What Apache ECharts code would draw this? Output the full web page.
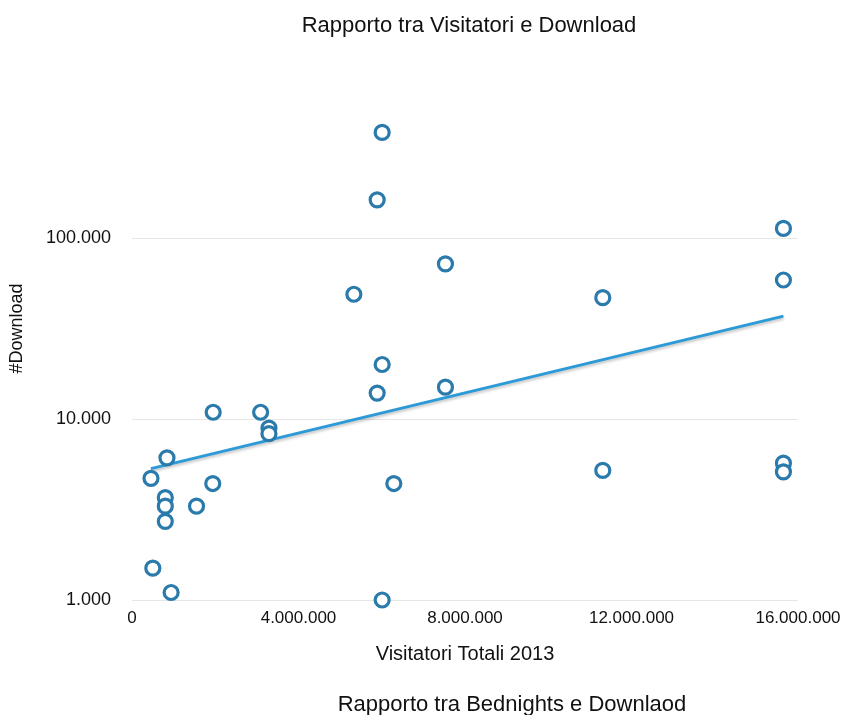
<!DOCTYPE html>
<html>
<head>
<meta charset="utf-8">
<script src="https://cdn.jsdelivr.net/npm/echarts@6/dist/echarts.min.js"></script>
<style>
  html, body { margin: 0; padding: 0; background: #ffffff; }
  #chart { width: 846px; height: 715px; }
</style>
</head>
<body>
<div id="chart"></div>
<script>
// Visitatori totali 2013 per destinazione
const visitors = [
  6010000, 5890000, 7530000, 5330000, 6010000, 5890000, 7530000,
  1950000, 3090000, 3290000, 3290000, 840000, 456000, 1940000,
  800000, 800000, 1550000, 800000, 500000, 940000,
  6290000, 6010000,
  15650000, 15650000, 11310000, 11310000, 15650000, 15650000
];
// Download corrispondenti
const downloads = [
  383000, 162500, 71900, 48900, 20000, 13900, 15000,
  10900, 10900, 8900, 8300, 6100, 4700, 4400,
  3680, 3300, 3300, 2720, 1500, 1100,
  4400, 1000,
  113000, 58600, 46800, 5200, 5700, 5100
];
// Estremi della linea di tendenza (esponenziale)
const trendX = [456000, 15650000];
const trendY = [5320, 37000];

const xTicks = [0, 4000000, 8000000, 12000000, 16000000];
const yTicks = [1000, 10000, 100000, 1000000];

const fmt = v => Math.round(v).toString().replace(/\B(?=(\d{3})+(?!\d))/g, '.');

const points = visitors.map((v, i) => [v, downloads[i]]);
const trend = trendX.map((v, i) => [v, trendY[i]]);

const FONT = 'Liberation Sans';
const chart = echarts.init(document.getElementById('chart'), null, { renderer: 'canvas' });
chart.setOption({
  backgroundColor: '#ffffff',
  animation: false,
  title: [
    {
      text: 'Rapporto tra Visitatori e Download',
      left: 464, top: 10, textAlign: 'center',
      textStyle: { fontFamily: FONT, fontSize: 22, fontWeight: 'normal', color: '#111' }
    },
    {
      text: 'Rapporto tra Bednights e Downlaod',
      left: 507, top: 689, textAlign: 'center',
      textStyle: { fontFamily: FONT, fontSize: 22, fontWeight: 'normal', color: '#111' }
    }
  ],
  grid: { left: 131, right: 48, top: 57, bottom: 115, containLabel: false },
  xAxis: {
    type: 'value',
    min: xTicks[0], max: xTicks[xTicks.length - 1], interval: xTicks[1] - xTicks[0],
    name: 'Visitatori Totali 2013',
    nameLocation: 'middle', nameGap: 44,
    nameTextStyle: { fontFamily: FONT, fontSize: 20, color: '#111' },
    axisLine: { show: false },
    axisTick: { show: false },
    splitLine: { show: false },
    axisLabel: {
      margin: 10, fontFamily: FONT, fontSize: 17, color: '#111',
      formatter: v => fmt(v)
    }
  },
  yAxis: {
    type: 'log', logBase: 10,
    min: yTicks[0], max: yTicks[yTicks.length - 1],
    name: '#Download',
    nameLocation: 'middle', nameGap: 106, nameRotate: 90,
    nameTextStyle: { fontFamily: FONT, fontSize: 18, color: '#111' },
    axisLine: { show: false },
    axisTick: { show: false },
    splitLine: { show: true, showMaxLine: false, lineStyle: { color: '#e6e6e6', width: 1 } },
    axisLabel: {
      margin: 21, fontFamily: FONT, fontSize: 18, color: '#111',
      showMaxLabel: false,
      formatter: v => fmt(v)
    }
  },
  series: [
    {
      type: 'line',
      data: trend,
      symbol: 'none',
      lineStyle: {
        color: '#2b9ad6', width: 3,
        shadowColor: 'rgba(0,0,0,0.25)', shadowBlur: 3, shadowOffsetY: 2
      },
      z: 2
    },
    {
      type: 'scatter',
      data: points,
      symbol: 'circle',
      symbolSize: 14,
      itemStyle: { color: '#ffffff', opacity: 1, borderColor: '#2a7aab', borderWidth: 3.2 },
      z: 3
    }
  ]
});
</script>
</body>
</html>
